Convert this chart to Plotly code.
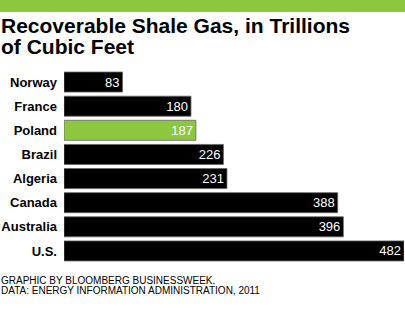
import plotly.graph_objects as go

countries = ["Norway", "France", "Poland", "Brazil", "Algeria", "Canada", "Australia", "U.S."]
values = [83, 180, 187, 226, 231, 388, 396, 482]
highlight = "Poland"

GREEN = "#8dc63f"
W, H = 405, 330
ML, MR, MT, MB = 64, 1, 70, 67
pw = W - ML - MR
ph = H - MT - MB

def py(px):
    return (H - MB - px) / ph

def pxx(x):
    return (x - ML) / pw

colors = [GREEN if c == highlight else "#000000" for c in countries]

fig = go.Figure(go.Bar(
    y=countries, x=values, orientation="h",
    marker=dict(color=colors, line=dict(color="#666666", width=0.8)),
    width=0.83,
    text=[str(v) for v in values],
    textposition="inside", insidetextanchor="end", textangle=0,
    textfont=dict(color="white", size=13, family="Liberation Sans, Arial"),
    hoverinfo="skip",
))

fig.update_layout(
    width=W, height=H,
    margin=dict(l=ML, r=MR, t=MT, b=MB),
    paper_bgcolor="white", plot_bgcolor="white",
    showlegend=False,
    xaxis=dict(range=[0, 482], visible=False, fixedrange=True),
    yaxis=dict(autorange="reversed", showgrid=False, zeroline=False, showline=False,
               ticks="", ticklabelstandoff=6,
               tickfont=dict(size=13, color="#000", family="Liberation Sans, Arial", weight="bold")),
    uniformtext=dict(mode="show", minsize=13),
)

fig.add_shape(type="rect", xref="paper", yref="paper",
              x0=pxx(0), x1=pxx(W), y0=py(12), y1=py(0),
              fillcolor=GREEN, line=dict(width=0), layer="above")

title_font = dict(size=21, color="#000", family="Liberation Sans, Arial", weight="bold")
fig.add_annotation(text="Recoverable Shale Gas, in Trillions", xref="paper", yref="paper",
                   x=pxx(-1), y=py(25), xanchor="left", yanchor="middle",
                   showarrow=False, font=title_font)
fig.add_annotation(text="of Cubic Feet", xref="paper", yref="paper",
                   x=pxx(-1), y=py(46), xanchor="left", yanchor="middle",
                   showarrow=False, font=title_font)

foot_font = dict(size=10, color="#000", family="Liberation Sans, Arial")
fig.add_annotation(text="GRAPHIC BY BLOOMBERG BUSINESSWEEK.", xref="paper", yref="paper",
                   x=pxx(-1), y=py(280.5), xanchor="left", yanchor="middle",
                   showarrow=False, font=foot_font)
fig.add_annotation(text="DATA: ENERGY INFORMATION ADMINISTRATION, 2011", xref="paper", yref="paper",
                   x=pxx(-1), y=py(290), xanchor="left", yanchor="middle",
                   showarrow=False, font=foot_font)

fig.write_html("out.html", config={"displayModeBar": False})
